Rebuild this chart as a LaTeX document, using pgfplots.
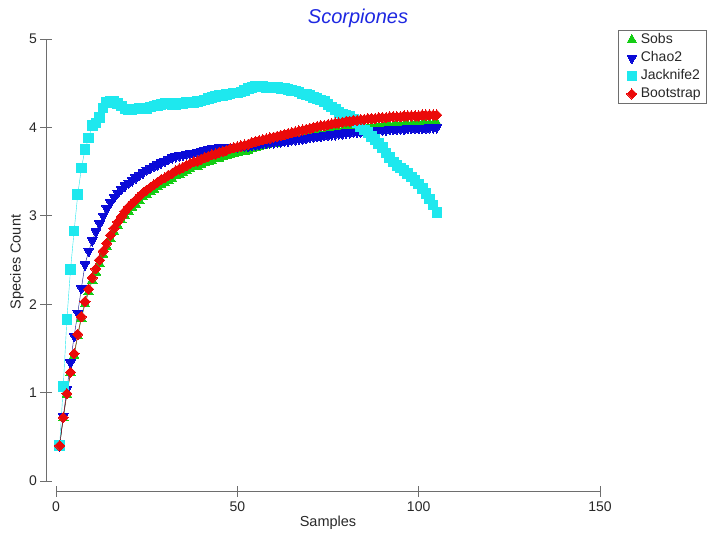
\documentclass[border=0pt]{standalone}
\usepackage{pgfplots}
\usepackage{pgfplotstable}
\pgfplotsset{compat=1.18}
\usepackage{fontspec}
\setmainfont{Liberation Sans}
\definecolor{cSobs}{RGB}{20,205,20}
\definecolor{cChao}{RGB}{10,10,215}
\definecolor{cJack}{RGB}{30,232,238}
\definecolor{cBoot}{RGB}{235,10,10}
\definecolor{axgray}{RGB}{110,110,110}
\definecolor{txt}{RGB}{40,40,40}
\definecolor{ttl}{RGB}{30,40,225}
\pgfplotstableread{
n sobs chao jack boot
1 0.40 0.40 0.40 0.40
2 0.71 0.73 1.07 0.72
3 0.98 1.04 1.83 0.99
4 1.22 1.34 2.39 1.23
5 1.42 1.64 2.83 1.44
6 1.64 1.90 3.24 1.66
7 1.84 2.18 3.54 1.86
8 2.00 2.45 3.75 2.03
9 2.14 2.60 3.88 2.17
10 2.27 2.72 4.02 2.30
11 2.36 2.82 4.05 2.40
12 2.46 2.91 4.11 2.50
13 2.56 3.00 4.22 2.60
14 2.65 3.08 4.28 2.69
15 2.74 3.15 4.30 2.78
16 2.82 3.21 4.29 2.86
17 2.89 3.26 4.27 2.93
18 2.95 3.30 4.24 2.99
19 3.00 3.34 4.21 3.05
20 3.05 3.37 4.20 3.10
21 3.09 3.40 4.20 3.14
22 3.13 3.43 4.21 3.18
23 3.17 3.46 4.22 3.22
24 3.21 3.49 4.22 3.26
25 3.24 3.52 4.21 3.29
26 3.27 3.54 4.23 3.32
27 3.30 3.56 4.24 3.35
28 3.33 3.58 4.25 3.38
29 3.35 3.60 4.26 3.41
30 3.37 3.62 4.27 3.43
31 3.40 3.64 4.27 3.46
32 3.42 3.66 4.26 3.48
33 3.45 3.67 4.26 3.51
34 3.47 3.68 4.27 3.53
35 3.49 3.69 4.27 3.55
36 3.51 3.70 4.28 3.57
37 3.53 3.71 4.28 3.59
38 3.55 3.71 4.28 3.61
39 3.56 3.72 4.29 3.62
40 3.58 3.73 4.30 3.64
41 3.60 3.74 4.31 3.66
42 3.61 3.75 4.33 3.67
43 3.62 3.76 4.34 3.69
44 3.64 3.76 4.35 3.70
45 3.65 3.77 4.36 3.72
46 3.67 3.77 4.36 3.73
47 3.68 3.77 4.37 3.74
48 3.69 3.78 4.38 3.76
49 3.70 3.78 4.39 3.77
50 3.71 3.78 4.39 3.78
51 3.72 3.79 4.40 3.79
52 3.73 3.79 4.42 3.80
53 3.74 3.79 4.44 3.81
54 3.76 3.80 4.45 3.83
55 3.77 3.80 4.46 3.84
56 3.78 3.81 4.46 3.85
57 3.79 3.82 4.46 3.86
58 3.80 3.82 4.45 3.87
59 3.81 3.83 4.45 3.88
60 3.82 3.83 4.45 3.89
61 3.82 3.84 4.45 3.90
62 3.83 3.84 4.44 3.91
63 3.84 3.85 4.44 3.92
64 3.85 3.85 4.43 3.93
65 3.86 3.86 4.42 3.94
66 3.87 3.86 4.41 3.95
67 3.88 3.87 4.40 3.96
68 3.89 3.87 4.38 3.97
69 3.90 3.88 4.37 3.98
70 3.91 3.89 4.36 3.99
71 3.92 3.89 4.34 4.00
72 3.92 3.90 4.33 4.01
73 3.93 3.90 4.31 4.02
74 3.93 3.91 4.29 4.02
75 3.94 3.91 4.26 4.03
76 3.95 3.92 4.23 4.04
77 3.96 3.92 4.20 4.05
78 3.96 3.93 4.17 4.05
79 3.97 3.93 4.15 4.06
80 3.98 3.94 4.14 4.07
81 3.98 3.94 4.12 4.07
82 3.99 3.95 4.09 4.08
83 3.99 3.95 4.05 4.08
84 4.00 3.95 4.01 4.09
85 4.00 3.96 3.97 4.09
86 4.00 3.96 3.94 4.10
87 4.01 3.96 3.90 4.10
88 4.01 3.97 3.86 4.10
89 4.01 3.97 3.82 4.11
90 4.02 3.97 3.77 4.11
91 4.02 3.97 3.71 4.11
92 4.02 3.98 3.66 4.12
93 4.02 3.98 3.61 4.12
94 4.03 3.98 3.57 4.12
95 4.03 3.98 3.54 4.12
96 4.03 3.98 3.51 4.13
97 4.03 3.99 3.48 4.13
98 4.03 3.99 3.44 4.13
99 4.04 3.99 3.40 4.13
100 4.04 3.99 3.36 4.13
101 4.04 3.99 3.31 4.14
102 4.04 3.99 3.25 4.14
103 4.04 4.00 3.19 4.14
104 4.04 4.00 3.12 4.14
105 4.05 4.00 3.04 4.14
}\datatable
\begin{document}
\begin{tikzpicture}[x=1pt,y=1pt]
\useasboundingbox (0,0) rectangle (707,-535);
\begin{axis}[
  at={(56pt,-481pt)}, anchor=south west,
  scale only axis, width=544pt, height=442pt,
  xmin=0, xmax=150, ymin=0, ymax=5,
  axis lines=left,
  axis line style={-, draw=axgray, line width=0.8pt},
  axis x line shift=10pt,
  axis y line shift=10pt,
  xtick={0,50,100,150}, ytick={0,1,2,3,4,5},
  tick align=center, major tick length=11pt,
  tick style={draw=axgray, line width=0.8pt},
  /pgf/number format/assume math mode=true,
  ticklabel style={font=\fontsize{14}{16}\selectfont, text=txt},
  xticklabel style={yshift=-2pt},
  yticklabel style={xshift=0pt},
  xlabel={Samples}, ylabel={Species Count},
  label style={font=\fontsize{14.5}{17}\selectfont, text=txt},
  xlabel style={at={(axis description cs:0.5,-0.095)}, anchor=center},
  ylabel style={at={(axis description cs:-0.072,0.4955)}, anchor=center, rotate=0},
  clip=false,
  legend style={at={(axis description cs:1.1949,1.0204)}, anchor=north east,
    draw=axgray, line width=0.5pt, font=\fontsize{14}{16}\selectfont, text=txt,
    inner xsep=3pt, inner ysep=1pt, row sep=0.5pt,
    nodes={text height=10.5pt, text depth=3pt, inner sep=2pt}},
  legend cell align=left,
  legend image code/.code={\path[draw=none,fill=none] (0pt,-1pt) rectangle (18pt,1pt); \path[#1] plot coordinates {(11pt,0pt)};},
]
\addplot[color=cSobs!70!black, line width=0.4pt, mark=triangle*, mark size=5.5pt,
  mark options={solid, draw=cSobs, fill=cSobs, line width=0pt}] table[x=n,y=sobs]{\datatable};
\addlegendentry{Sobs}
\addplot[color=cChao!60!black, line width=0.4pt, mark=triangle*, mark size=5.6pt,
  mark options={solid, rotate=180, draw=cChao, fill=cChao, line width=0pt}] table[x=n,y=chao]{\datatable};
\addlegendentry{Chao2}
\addplot[color=cJack, line width=0.4pt, mark=square*, mark size=4.8pt,
  mark options={solid, draw=cJack, fill=cJack, line width=0pt}] table[x=n,y=jack]{\datatable};
\addlegendentry{Jacknife2}
\addplot[color=cBoot!70!black, line width=0.4pt, mark=square*, mark size=3.6pt,
  mark options={solid, rotate=45, draw=cBoot, fill=cBoot, line width=0pt}] table[x=n,y=boot]{\datatable};
\addlegendentry{Bootstrap}
\end{axis}
\node[text=ttl, font=\fontsize{20}{24}\selectfont\itshape] at (358,-18) {Scorpiones};
\end{tikzpicture}
\end{document}
